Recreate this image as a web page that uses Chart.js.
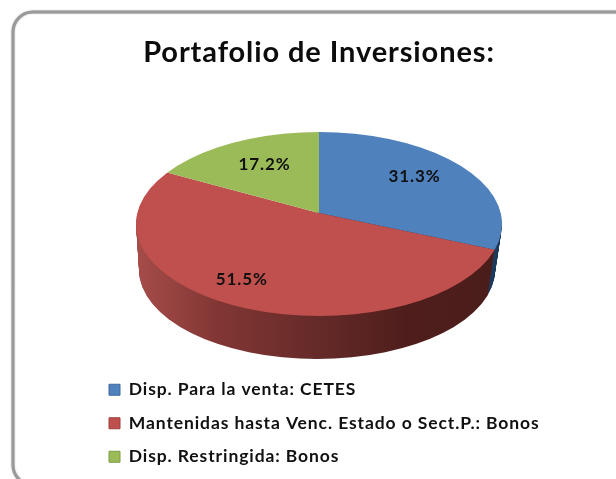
<!DOCTYPE html>
<html><head><meta charset="utf-8">
<style>html,body{margin:0;padding:0;background:#fff}canvas{display:block}</style>
<script src="https://cdn.jsdelivr.net/npm/chart.js@4"></script>
</head><body><canvas id="c" width="616" height="479"></canvas>
<script>
const chartTitle = 'Portafolio de Inversiones:';
const categories = ['Disp. Para la venta: CETES','Mantenidas hasta Venc. Estado o Sect.P.: Bonos','Disp. Restringida: Bonos'];
const values = [31.3, 51.5, 17.2];
const faceColors = ['#4f81bd','#c0504d','#9bbb59'];
const edgeColors = ['#3f6a9c','#9e3f3c','#7f9c47'];

// perspective of the tilted disc: wedges fan from an apex, clipped by the outline ellipse
const P = {cx:319, apexY:213, spread:230, squash:0.5,
           top:{cx:319, cy:224, rx:183, ry:92},
           bottom:{cx:317, cy:270, rx:178, ry:89}, depth:46};
const FONT = 'Lato, "Open Sans", sans-serif';

function place(ctx, el, cx, cy){
  const k = P.spread/el.outerRadius;
  ctx.translate(cx, cy);
  ctx.scale(k, k*P.squash);
  ctx.translate(-el.x, -el.y);
}
function ellipseClip(ctx, cx, cy, rx, ry){ ctx.beginPath(); ctx.ellipse(cx,cy,rx,ry,0,0,Math.PI*2); ctx.clip(); }
function sideFill(ctx, el, i, cx){
  const k = el.outerRadius/P.spread;
  const X = x => (x-cx)*k + el.x;
  if(i===0) return '#1f3c5e';
  const g = ctx.createLinearGradient(X(138),0,X(490),0);
  g.addColorStop(0,'#a54c49'); g.addColorStop(0.23,'#813634');
  g.addColorStop(0.52,'#642a28'); g.addColorStop(0.76,'#4f1e1c'); g.addColorStop(1,'#4a1d1b');
  return g;
}

const tiltedPie = {
  id:'tiltedPie',
  beforeUpdate(chart){ chart.ctx.letterSpacing = '0.9px'; },
  beforeDraw(chart){
    const c = chart.ctx;
    c.save();
    c.fillStyle='#fff'; c.fillRect(0,0,616,479);
    c.strokeStyle='#9a9a9a'; c.lineWidth=3; c.shadowColor='rgba(120,120,120,.6)'; c.shadowBlur=1.5;
    c.beginPath(); c.roundRect(13,12,650,473,20); c.stroke();
    c.restore();
  },
  afterLayout(chart){
    const t = chart.titleBlock, l = chart.legend, pad = l.options.labels.padding;
    t.left = 0; t.right = 2*P.cx; t.top = 35;
    l.left = 109 - pad; l.top = 381 - pad;
  },
  beforeDatasetsDraw(chart){
    const c = chart.ctx, els = chart.getDatasetMeta(0).data;
    const T = P.top, B = P.bottom;
    // side wall, swept from the bottom outline up to the top one
    for(let d=P.depth; d>=1; d--){
      const t = d/P.depth;
      const cx = T.cx+(B.cx-T.cx)*t, cy = T.cy+(B.cy-T.cy)*t, rx = T.rx+(B.rx-T.rx)*t, ry = T.ry+(B.ry-T.ry)*t;
      els.forEach((el,i)=>{
        if(i===2) return;
        const keep = el.options;
        c.save();
        ellipseClip(c, cx, cy, rx, ry);
        place(c, el, cx, P.apexY+d);
        el.options = Object.assign({}, keep, {backgroundColor: sideFill(c, el, i, cx), borderWidth:0});
        el.draw(c, chart.chartArea);
        el.options = keep;
        c.restore();
      });
    }
    // top face
    els.forEach(el=>{
      c.save(); ellipseClip(c, T.cx, T.cy, T.rx, T.ry); place(c, el, P.cx, P.apexY); el.draw(c, chart.chartArea); c.restore();
    });
    // percentage labels
    const shift = [[-4,-3],[-26,12],[7,3]];
    els.forEach((el,i)=>{
      const a = (el.startAngle+el.endAngle)/2, f = 0.52;
      const x = P.cx + Math.cos(a)*f*P.spread + shift[i][0];
      const y = P.apexY + Math.sin(a)*f*P.spread*P.squash + shift[i][1];
      c.save();
      c.font = 'bold 17px '+FONT; c.fillStyle='#111'; c.textAlign='center'; c.textBaseline='middle';
      c.fillText(values[i].toFixed(1)+'%', x, y);
      c.restore();
    });
    return false;
  }
};

new Chart(document.getElementById('c'),{
  type:'pie',
  data:{labels:categories,datasets:[{data:values,backgroundColor:faceColors,borderColor:edgeColors,borderWidth:0}]},
  options:{
    responsive:false,animation:false,
    layout:{padding:0},
    events:[],
    plugins:{
      tooltip:{enabled:false},
      title:{display:true,text:chartTitle,color:'#0c0c0c',font:{family:FONT,size:29,weight:'bold',lineHeight:1.2},padding:0},
      legend:{position:'bottom',align:'start',
        labels:{color:'#111',boxWidth:11,boxHeight:11,padding:16,
          font:{family:FONT,size:17.5,weight:'bold',lineHeight:1},
          generateLabels(ch){
            return Chart.overrides.pie.plugins.legend.labels.generateLabels(ch).map(o=>Object.assign(o,{lineWidth:1}));
          }}}
    }
  },
  plugins:[tiltedPie]
});
</script></body></html>
